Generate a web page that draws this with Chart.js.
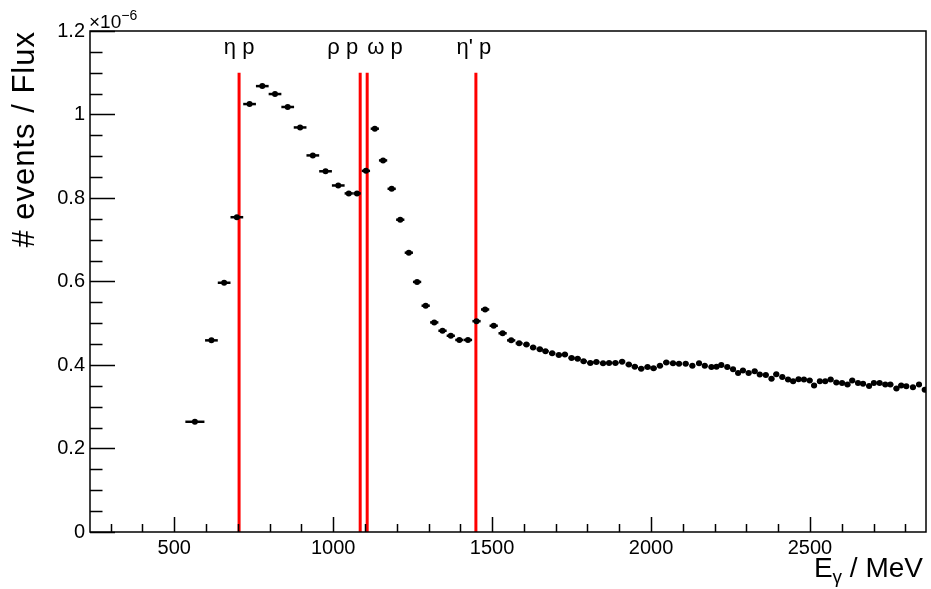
<!DOCTYPE html>
<html><head><meta charset="utf-8">
<script src="https://cdn.jsdelivr.net/npm/chart.js@4/dist/chart.umd.min.js"></script>
<style>html,body{margin:0;padding:0;background:#fff;}#wrap{width:931px;height:589px;}</style>
</head><body><div id="wrap"><canvas id="c" width="931" height="589"></canvas></div>
<script>
// ---- data ----
const energies = [565, 617, 657, 697, 737, 777, 817, 857, 896, 936, 976, 1016, 1049, 1075,
  1103, 1131, 1157, 1184, 1211, 1238, 1264, 1291, 1318, 1344, 1370, 1397, 1424, 1451, 1478, 1505, 1533, 1560,
  1585, 1608, 1629, 1650, 1668, 1689, 1710, 1729, 1750, 1769, 1788, 1809, 1828, 1849, 1868, 1888, 1909, 1930,
  1949, 1969, 1989, 2008, 2028, 2048, 2069, 2088, 2109, 2130, 2151, 2169, 2190, 2206, 2221, 2240, 2258, 2274,
  2289, 2307, 2326, 2342, 2361, 2379, 2394, 2413, 2431, 2447, 2464, 2481, 2499, 2513, 2531, 2548, 2565, 2583,
  2601, 2618, 2633, 2651, 2667, 2686, 2701, 2719, 2737, 2753, 2772, 2787, 2803, 2824, 2843, 2861];
const values = [0.264, 0.459, 0.597, 0.754, 1.025, 1.068, 1.049, 1.018, 0.969, 0.902, 0.864, 0.830, 0.811, 0.811,
  0.865, 0.966, 0.890, 0.822, 0.748, 0.669, 0.599, 0.542, 0.502, 0.482, 0.470, 0.460, 0.460, 0.505, 0.533, 0.494, 0.476, 0.459,
  0.452, 0.449, 0.442, 0.438, 0.433, 0.428, 0.424, 0.425, 0.417, 0.415, 0.409, 0.405, 0.407, 0.404, 0.405, 0.405, 0.408, 0.401,
  0.396, 0.391, 0.395, 0.392, 0.398, 0.406, 0.404, 0.403, 0.403, 0.398, 0.404, 0.398, 0.395, 0.396, 0.400, 0.395, 0.390, 0.381,
  0.387, 0.381, 0.385, 0.377, 0.376, 0.367, 0.378, 0.371, 0.365, 0.361, 0.366, 0.365, 0.363, 0.351, 0.361, 0.361, 0.365, 0.358,
  0.357, 0.353, 0.363, 0.357, 0.355, 0.350, 0.357, 0.357, 0.353, 0.353, 0.344, 0.351, 0.349, 0.347, 0.353, 0.341];
const binHalfWidths = [30, 20, 20, 20, 20, 20, 20, 20, 20, 20, 20, 20, 13, 12,
  13, 13, 13, 13, 13, 13, 13, 13, 13, 13, 13, 13, 13, 13, 13, 13, 13, 13,
  11, 10, 10, 10, 10, 10, 10, 10, 10, 10, 10, 10, 10, 10, 10, 10, 10, 10,
  10, 10, 10, 10, 10, 10, 10, 10, 9, 9, 9, 9, 9, 9, 9, 9, 9, 9,
  9, 9, 9, 9, 9, 9, 9, 9, 9, 9, 9, 9, 9, 9, 9, 9, 9, 9,
  9, 9, 9, 9, 9, 9, 9, 9, 9, 9, 9, 9, 9, 9, 9, 9];
const thresholdEnergies = [704, 1085, 1107, 1449];
const thresholdLabels = ['\u03B7 p', '\u03C1 p', '\u03C9 p', "\u03B7' p"];
const thresholdTop = 1.1;
const xTickValues = [500, 1000, 1500, 2000, 2500];
const xMinorStep = 100;
const yTickValues = [0, 0.2, 0.4, 0.6, 0.8, 1, 1.2];
const yMinorStep = 0.05;
const xRange = [235, 2865];
const yRange = [0, 1.2];
const xTitle = ['E', '\u03B3', ' / MeV'];
const yTitle = '# events / Flux';
const yMultiplier = ['\u00D710', '\u22126'];

// ---- styling ----
const FONT = '"Liberation Sans", Arial, Helvetica, sans-serif';
const labelAlign = ['center', 'right', 'left', 'center'];
const labelShift = [0, -2, 0, -2];

const pointData = energies.map((e, i) => ({x: e, y: values[i]}));
const lineSets = thresholdEnergies.map(e => ({
  type: 'line', data: [{x: e, y: 0}, {x: e, y: thresholdTop}],
  borderColor: '#ff0000', borderWidth: 3, pointRadius: 0, fill: false
}));

const errorBars = {
  id: 'errorBars',
  afterDatasetsDraw(chart) {
    const {ctx, chartArea: a, scales: {x, y}} = chart;
    ctx.save();
    ctx.beginPath(); ctx.rect(a.left, a.top, a.width, a.height); ctx.clip();
    ctx.strokeStyle = '#000'; ctx.lineWidth = 2.5;
    energies.forEach((e, i) => {
      const py = y.getPixelForValue(values[i]);
      ctx.beginPath();
      ctx.moveTo(x.getPixelForValue(e - binHalfWidths[i]), py);
      ctx.lineTo(x.getPixelForValue(e + binHalfWidths[i]), py);
      ctx.stroke();
    });
    ctx.restore();
  }
};

const decorations = {
  id: 'decorations',
  afterDraw(chart) {
    const {ctx, chartArea: a, scales: {x, y}} = chart;
    ctx.save();
    ctx.strokeStyle = '#000'; ctx.lineWidth = 1.5;
    ctx.strokeRect(a.left, a.top, a.width, a.height);
    ctx.beginPath();
    for (let v = Math.ceil(xRange[0] / xMinorStep) * xMinorStep; v <= xRange[1]; v += xMinorStep) {
      const px = Math.round(x.getPixelForValue(v)) + 0.5;
      const major = xTickValues.includes(v);
      ctx.moveTo(px, a.bottom); ctx.lineTo(px, a.bottom - (major ? 15 : 8));
    }
    const n = Math.round((yRange[1] - yRange[0]) / yMinorStep);
    for (let k = 0; k <= n; k++) {
      const v = yRange[0] + k * yMinorStep;
      const py = Math.round(y.getPixelForValue(v)) + 0.5;
      const major = k % 4 === 0;
      ctx.moveTo(a.left, py); ctx.lineTo(a.left + (major ? 25 : 12.5), py);
    }
    ctx.stroke();

    ctx.fillStyle = '#000';
    ctx.save();
    ctx.translate(34, a.top);
    ctx.rotate(-Math.PI / 2);
    ctx.font = '31px ' + FONT;
    ctx.letterSpacing = '1px';
    ctx.textAlign = 'right'; ctx.textBaseline = 'alphabetic';
    ctx.fillText(yTitle, 0, 0);
    ctx.restore();

    ctx.textBaseline = 'alphabetic'; ctx.textAlign = 'left';
    const big = '28px ' + FONT, small = '19px ' + FONT;
    ctx.font = big; const w0 = ctx.measureText(xTitle[0]).width; const w2 = ctx.measureText(xTitle[2]).width;
    ctx.font = small; const w1 = ctx.measureText(xTitle[1]).width;
    let sx = a.right - 3 - (w0 + w1 + w2);
    const by = 577;
    ctx.font = big; ctx.fillText(xTitle[0], sx, by); sx += w0;
    ctx.font = small; ctx.fillText(xTitle[1], sx, by + 6); sx += w1;
    ctx.font = big; ctx.fillText(xTitle[2], sx, by);

    ctx.font = '19px ' + FONT;
    ctx.fillText(yMultiplier[0], a.left - 1, 28);
    const mw = ctx.measureText(yMultiplier[0]).width;
    ctx.font = '14px ' + FONT;
    ctx.fillText(yMultiplier[1], a.left - 1 + mw, 20);

    ctx.font = '22px ' + FONT;
    thresholdEnergies.forEach((e, i) => {
      ctx.textAlign = labelAlign[i];
      ctx.fillText(thresholdLabels[i], x.getPixelForValue(e) + labelShift[i], 54);
    });
    ctx.restore();
  }
};

new Chart(document.getElementById('c'), {
  type: 'scatter',
  data: {
    datasets: [
      {data: pointData, pointRadius: 3, pointBackgroundColor: '#000', pointBorderColor: '#000', pointBorderWidth: 0, showLine: false},
      ...lineSets
    ]
  },
  options: {
    responsive: false, animation: false, devicePixelRatio: 1,
    layout: {padding: {top: 31, right: 5, left: 0, bottom: 0}},
    plugins: {legend: {display: false}, tooltip: {enabled: false}},
    scales: {
      x: {
        type: 'linear', min: xRange[0], max: xRange[1],
        afterBuildTicks: s => { s.ticks = xTickValues.map(v => ({value: v})); },
        afterFit: s => { s.height = 57; },
        grid: {display: false, drawTicks: false}, border: {display: false},
        ticks: {color: '#000', font: {family: FONT, size: 20}, padding: 4, maxRotation: 0, callback: v => String(v)}
      },
      y: {
        type: 'linear', min: yRange[0], max: yRange[1],
        afterBuildTicks: s => { s.ticks = yTickValues.map(v => ({value: v})); },
        afterFit: s => { s.width = 90; },
        grid: {display: false, drawTicks: false}, border: {display: false},
        ticks: {color: '#000', font: {family: FONT, size: 20}, padding: 5, callback: v => String(Math.round(v * 10) / 10)}
      }
    }
  },
  plugins: [errorBars, decorations]
});
</script></body></html>
